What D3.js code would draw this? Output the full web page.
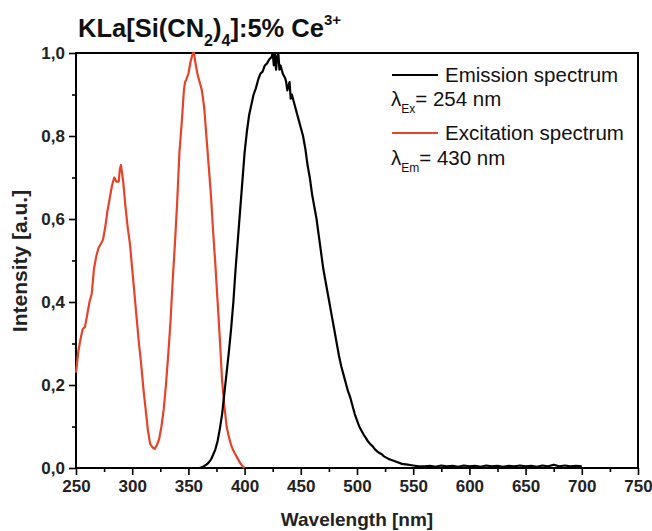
<!DOCTYPE html>
<html>
<head>
<meta charset="utf-8">
<script src="https://cdn.jsdelivr.net/npm/d3@7"></script>
<style>
  html, body { margin: 0; padding: 0; background: #fff; }
  svg { display: block; font-family: Arial, "Liberation Sans", Helvetica, sans-serif; }
</style>
</head>
<body>
<svg id="chart" width="652" height="531"></svg>
<script>
// ---------- data ----------
const excitationWavelength = [250,252,254,256,258,260,262,264,266,268,270,272,274,276,278,280,282,284,286,288,289,290,292,294,296,298,300,302,304,306,308,310,312,314,316,318,320,322,324,326,328,330,332,334,336,338,340,342,344,346,347,348,350,352,354,355,356,358,360,362,364,366,368,370,372,374,376,378,380,382,384,386,388,390,392,394,396,398,400];
const excitationIntensity  = [0.23,0.28,0.31,0.335,0.34,0.37,0.40,0.42,0.48,0.51,0.53,0.54,0.55,0.58,0.62,0.65,0.68,0.70,0.69,0.69,0.72,0.73,0.69,0.63,0.58,0.54,0.48,0.42,0.36,0.30,0.25,0.19,0.14,0.09,0.058,0.05,0.046,0.055,0.07,0.10,0.14,0.20,0.27,0.35,0.45,0.54,0.64,0.76,0.83,0.91,0.93,0.935,0.95,0.98,1.0,1.0,0.98,0.95,0.93,0.91,0.87,0.80,0.73,0.66,0.57,0.49,0.40,0.31,0.21,0.15,0.10,0.075,0.055,0.042,0.032,0.022,0.012,0.005,0.0];

const emissionWavelength = [355,360,363,366,368,370,372,374,376,378,380,382,384,386,388,390,392,394,396,398,400,402,404,406,408,410,412,414,416,418,420,422,424,425,426,427,428,429,430,431,432,434,436,437,438,440,441,442,444,446,448,450,452,454,456,458,460,462,464,466,468,470,472,474,476,478,480,482,484,486,488,490,492,494,496,498,500,502,504,506,508,510,512,514,516,518,520,522,524,526,528,530,535,540,545,550,555,560,565,570,575,580,585,590,595,600,605,610,615,620,625,630,635,640,645,650,655,660,665,670,675,680,685,690,695,700];
const emissionIntensity  = [0,0,0.003,0.008,0.013,0.02,0.032,0.045,0.065,0.095,0.13,0.18,0.23,0.28,0.335,0.40,0.48,0.55,0.62,0.69,0.76,0.81,0.85,0.875,0.90,0.915,0.935,0.95,0.955,0.97,0.975,0.985,0.99,1.0,0.97,1.0,0.96,0.99,1.0,0.96,0.97,0.95,0.94,0.93,0.91,0.93,0.89,0.90,0.88,0.86,0.84,0.82,0.80,0.77,0.73,0.70,0.66,0.63,0.60,0.56,0.52,0.48,0.45,0.42,0.39,0.36,0.33,0.30,0.27,0.245,0.225,0.205,0.185,0.17,0.15,0.13,0.115,0.10,0.09,0.08,0.072,0.063,0.057,0.052,0.045,0.04,0.036,0.033,0.028,0.025,0.022,0.02,0.015,0.01,0.008,0.006,0.004,0.004,0.005,0.003,0.006,0.004,0.005,0.003,0.006,0.004,0.005,0.003,0.006,0.004,0.005,0.003,0.005,0.004,0.006,0.004,0.005,0.003,0.006,0.004,0.008,0.004,0.006,0.004,0.005,0.004];

const xTicks = [250,300,350,400,450,500,550,600,650,700,750];
const yTicks = [0,0.2,0.4,0.6,0.8,1.0];
const xLabel = "Wavelength [nm]";
const yLabel = "Intensity [a.u.]";
const legendEmission = "Emission spectrum";
const legendExcitation = "Excitation spectrum";

// ---------- layout ----------
const W = 652, H = 531;
const margin = {left: 76, right: 14, top: 53, bottom: 63};
const iw = W - margin.left - margin.right;
const ih = H - margin.top - margin.bottom;
const red = "#e5432a";

const svg = d3.select("#chart");
const g = svg.append("g").attr("transform", `translate(${margin.left},${margin.top})`);

const x = d3.scaleLinear().domain([250, 750]).range([0, iw]);
const y = d3.scaleLinear().domain([0, 1]).range([ih, 0]);

const fmt = d => d3.format(".1f")(d).replace(".", ",");

// minor ticks
const xMinor = d3.range(275, 750, 50);
const yMinor = d3.range(0.1, 1.0, 0.2);

g.append("g").attr("transform", `translate(0,${ih})`)
  .call(d3.axisBottom(x).tickValues(xTicks).tickSize(7).tickPadding(5).tickFormat(d3.format("d")));
g.append("g").attr("transform", `translate(0,${ih})`)
  .call(d3.axisBottom(x).tickValues(xMinor).tickSize(4).tickFormat(""))
  .call(a => a.select(".domain").remove());
g.append("g")
  .call(d3.axisLeft(y).tickValues(yTicks).tickSize(7).tickPadding(4).tickFormat(fmt));
g.append("g")
  .call(d3.axisLeft(y).tickValues(yMinor).tickSize(4).tickFormat(""))
  .call(a => a.select(".domain").remove());

g.selectAll(".tick line").attr("stroke", "#000").attr("stroke-width", 1.6);
g.selectAll(".domain").remove();
g.selectAll(".tick text").attr("font-size", 17).attr("font-weight", "bold").attr("fill", "#222");

// frame
g.append("rect").attr("x", 0).attr("y", 0).attr("width", iw).attr("height", ih)
  .attr("fill", "none").attr("stroke", "#000").attr("stroke-width", 2);

// lines
const line = d3.line().x(d => x(d[0])).y(d => y(d[1]));
const exc = excitationWavelength.map((w, i) => [w, excitationIntensity[i]]);
const emi = emissionWavelength.map((w, i) => [w, emissionIntensity[i]]);

g.append("path").datum(exc).attr("d", line)
  .attr("fill", "none").attr("stroke", red).attr("stroke-width", 2.2).attr("stroke-linejoin", "round");
g.append("path").datum(emi).attr("d", line)
  .attr("fill", "none").attr("stroke", "#000").attr("stroke-width", 2.2).attr("stroke-linejoin", "round");

// axis labels
svg.append("text").attr("x", 357).attr("y", 526).attr("text-anchor", "middle")
  .attr("font-size", 19).attr("font-weight", "bold").attr("fill", "#222").text(xLabel);
svg.append("text").attr("transform", "translate(27,261) rotate(-90)").attr("text-anchor", "middle")
  .attr("font-size", 21).attr("font-weight", "bold").attr("fill", "#222").text(yLabel);

// title
const title = svg.append("text").attr("x", 78).attr("y", 37)
  .attr("font-size", 25.5).attr("font-weight", "bold").attr("fill", "#111");
title.append("tspan").text("KLa[Si(CN");
title.append("tspan").attr("font-size", 16).attr("dy", 9).text("2");
title.append("tspan").attr("dy", -9).text(")");
title.append("tspan").attr("font-size", 16).attr("dy", 9).text("4");
title.append("tspan").attr("dy", -9).text("]:5% Ce");
title.append("tspan").attr("font-size", 15).attr("dy", -12).text("3+");

// legend
const lg = svg.append("g").attr("font-size", 20.5).attr("fill", "#111");
lg.append("line").attr("x1", 392).attr("x2", 438).attr("y1", 75).attr("y2", 75)
  .attr("stroke", "#000").attr("stroke-width", 2);
lg.append("text").attr("x", 445).attr("y", 82).text(legendEmission);
const t1 = lg.append("text").attr("x", 391).attr("y", 106);
t1.append("tspan").text("λ");
t1.append("tspan").attr("font-size", 12).attr("dy", 7).text("Ex");
t1.append("tspan").attr("dy", -7).text("= 254 nm");
lg.append("line").attr("x1", 392).attr("x2", 438).attr("y1", 133).attr("y2", 133)
  .attr("stroke", red).attr("stroke-width", 2);
lg.append("text").attr("x", 445).attr("y", 140).text(legendExcitation);
const t2 = lg.append("text").attr("x", 391).attr("y", 165);
t2.append("tspan").text("λ");
t2.append("tspan").attr("font-size", 12).attr("dy", 7).text("Em");
t2.append("tspan").attr("dy", -7).text("= 430 nm");
</script>
</body>
</html>
